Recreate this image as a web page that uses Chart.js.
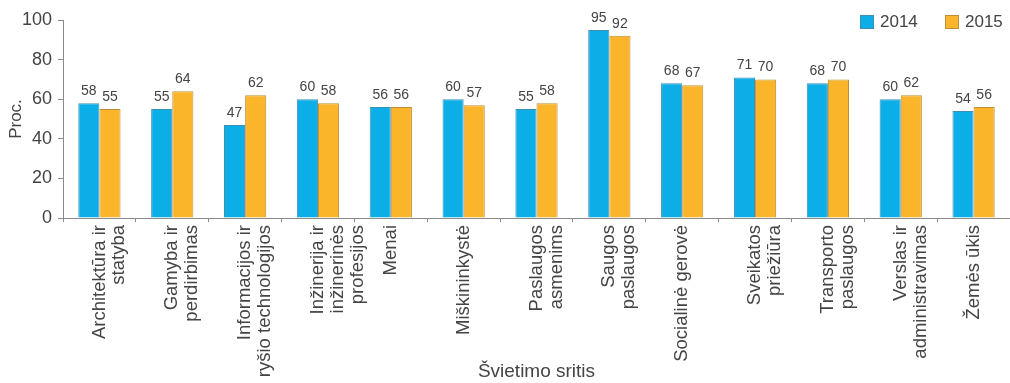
<!DOCTYPE html>
<html>
<head>
<meta charset="utf-8">
<script src="https://cdn.jsdelivr.net/npm/chart.js@4.4.1/dist/chart.umd.min.js"></script>
<style>
  html, body { margin: 0; padding: 0; background: #fff; }
  #wrap { position: relative; width: 1010px; height: 383px; overflow: hidden; }
  #c { position: absolute; left: 0; top: 0; }
  .leg { position: absolute; top: 12px; font-family: "Liberation Sans", Arial, sans-serif; font-size: 17px; color: #444; display: flex; align-items: center; }
  .sw { display: inline-block; width: 14px; height: 14px; margin-right: 6px; box-sizing: border-box; }
</style>
</head>
<body>
<div id="wrap">
  <canvas id="c" width="1010" height="383"></canvas>
  <div class="leg" style="left:860px;"><span class="sw" id="sw1"></span><span id="lg1"></span></div>
  <div class="leg" style="left:945px;"><span class="sw" id="sw2"></span><span id="lg2"></span></div>
</div>
<script>
const categories = [
  ["Architektūra ir", "statyba"],
  ["Gamyba ir", "perdirbimas"],
  ["Informacijos ir", "ryšio technologijos"],
  ["Inžinerija ir", "inžinerinės", "profesijos"],
  ["Menai"],
  ["Miškininkystė"],
  ["Paslaugos", "asmenims"],
  ["Saugos", "paslaugos"],
  ["Socialinė gerovė"],
  ["Sveikatos", "priežiūra"],
  ["Transporto", "paslaugos"],
  ["Verslas ir", "administravimas"],
  ["Žemės ūkis"]
];
const seriesNames = ["2014", "2015"];
const values2014 = [58, 55, 47, 60, 56, 60, 55, 95, 68, 71, 68, 60, 54];
const values2015 = [55, 64, 62, 58, 56, 57, 58, 92, 67, 70, 70, 62, 56];
const yTicks = [0, 20, 40, 60, 80, 100];
const yTitle = "Proc.";
const xTitle = "Švietimo sritis";

const BLUE = "#0caee8", BLUE_B = "#3f8fb0";
const ORANGE = "#fbb52b", ORANGE_B = "#c08f35";
const FONT = "'Liberation Sans', Arial, sans-serif";

document.getElementById("sw1").style.cssText += `background:${BLUE};border:1px solid ${BLUE_B};`;
document.getElementById("sw2").style.cssText += `background:${ORANGE};border:1px solid ${ORANGE_B};`;
document.getElementById("lg1").textContent = seriesNames[0];
document.getElementById("lg2").textContent = seriesNames[1];

const valueLabels = {
  id: "valueLabels",
  afterDatasetsDraw(chart) {
    const ctx = chart.ctx;
    ctx.save();
    ctx.font = "14px " + FONT;
    ctx.fillStyle = "#444";
    ctx.textAlign = "center";
    ctx.textBaseline = "bottom";
    chart.data.datasets.forEach((ds, i) => {
      chart.getDatasetMeta(i).data.forEach((el, j) => {
        ctx.fillText(String(ds.data[j]), el.x, el.y - 5);
      });
    });
    ctx.restore();
  }
};

new Chart(document.getElementById("c"), {
  type: "bar",
  data: {
    labels: categories,
    datasets: [
      { label: seriesNames[0], data: values2014, backgroundColor: BLUE, borderColor: BLUE_B, borderWidth: 1 },
      { label: seriesNames[1], data: values2015, backgroundColor: ORANGE, borderColor: ORANGE_B, borderWidth: 1 }
    ]
  },
  options: {
    responsive: false,
    animation: false,
    devicePixelRatio: 1,
    categoryPercentage: 0.58,
    barPercentage: 1.0,
    layout: { padding: { top: 20, right: 0, left: 0, bottom: 0 } },
    plugins: { legend: { display: false }, tooltip: { enabled: false } },
    scales: {
      x: {
        afterFit(s) { s.height = 165; },
        border: { display: true, color: "#8a8a8a" },
        grid: { offset: true, drawOnChartArea: false, drawTicks: true, tickLength: 4, color: "#8a8a8a" },
        ticks: {
          autoSkip: false, minRotation: 90, maxRotation: 90, padding: 3,
          color: "#444", font: { family: FONT, size: 18.5, lineHeight: 1.08 }
        },
        title: { display: true, text: xTitle, color: "#444", font: { family: FONT, size: 19 }, padding: { top: 0, bottom: 0 } }
      },
      y: {
        min: 0, max: 100,
        afterFit(s) { s.width = 63; },
        afterBuildTicks(s) { s.ticks = yTicks.map(v => ({ value: v })); },
        border: { display: true, color: "#8a8a8a" },
        grid: { drawOnChartArea: false, drawTicks: true, tickLength: 5, color: "#8a8a8a" },
        ticks: { color: "#444", padding: 6, font: { family: FONT, size: 18 } },
        title: { display: true, text: yTitle, color: "#444", font: { family: FONT, size: 17 }, padding: { top: 6, bottom: 0 } }
      }
    }
  },
  plugins: [valueLabels]
});
</script>
</body>
</html>
